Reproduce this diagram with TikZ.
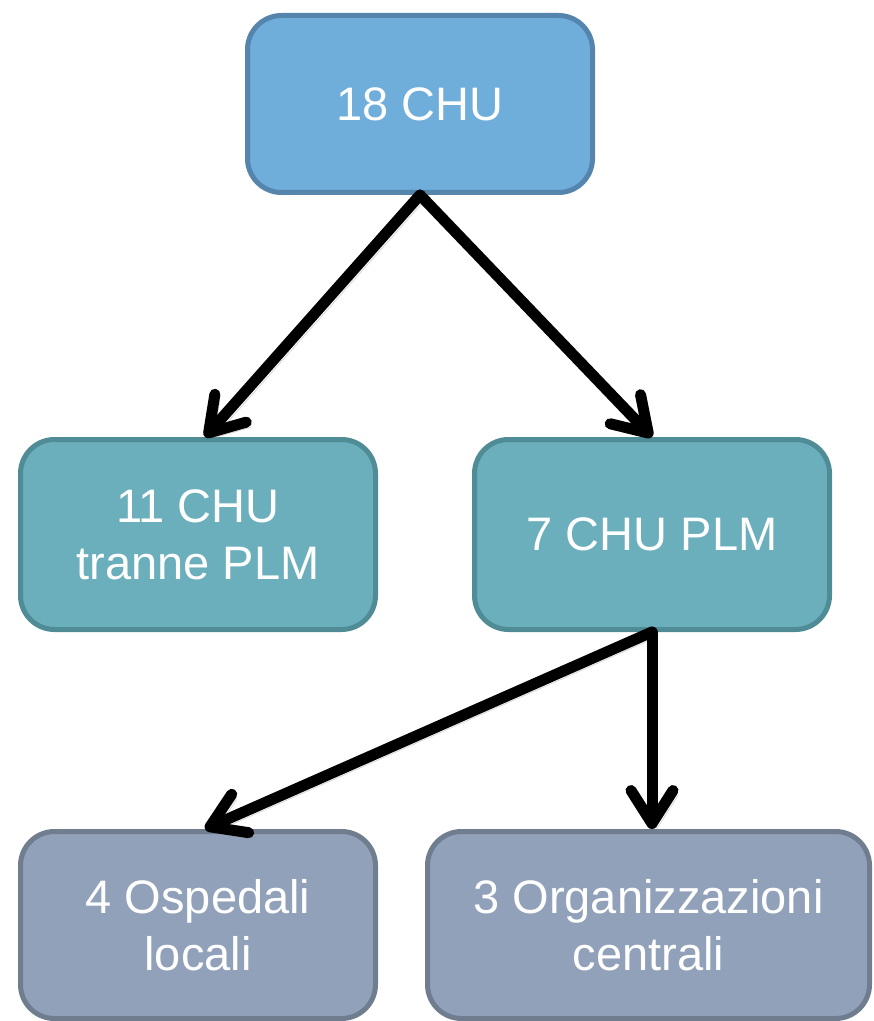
\documentclass[tikz,border=0pt]{standalone}
\usepackage{fontspec}
\setmainfont{Liberation Sans}
\usetikzlibrary{arrows.meta}
\definecolor{topfill}{HTML}{6FADDA}
\definecolor{topline}{HTML}{5585AD}
\definecolor{midfill}{HTML}{6BAFBC}
\definecolor{midline}{HTML}{4F8C95}
\definecolor{lowfill}{HTML}{91A1BA}
\definecolor{lowline}{HTML}{6F7D8F}
\tikzstyle{chu}=[rectangle, rounded corners=17pt, line width=2.5pt, text=white,
  align=center, font=\fontsize{23.5}{28.5}\selectfont]
\tikzstyle{level0}=[chu, fill=topfill, draw=topline, minimum width=172.5pt, minimum height=88.5pt]
\tikzstyle{level1}=[chu, fill=midfill, draw=midline, minimum width=177.5pt, minimum height=95pt]
\tikzstyle{level2}=[chu, fill=lowfill, draw=lowline, minimum height=93.5pt]
\newcommand{\chu}{\node}

\begin{document}
\begin{tikzpicture}[x=0.5pt, y=-0.5pt
  ,every edge/.style={draw, line width=5.5pt, line cap=round,
    -{Straight Barb[length=16.5pt, width=21pt, line cap=round, line join=round]},
    preaction={draw, black!40, opacity=0.4, transform canvas={shift={(2.5pt,-2.5pt)}}}}
]
\useasboundingbox (0,0) rectangle (873,1021);
\chu[level0] (all) at (420,104) {18 CHU};
\chu[level1] (rest) at (198,534.5) {11 CHU\\tranne PLM};
\chu[level1] (plm) at (652,534.5) {7 CHU PLM};
\chu[level2, minimum width=177.5pt] (osp) at (198,925) {4 Ospedali\\locali};
\chu[level2, minimum width=221pt] (org) at (648.5,925) {3 Organizzazioni\\centrali};
\path
(all.south) edge ([xshift=3.5pt]rest.north) edge (plm.north)
(plm.south) edge ([xshift=3.5pt]osp.north) edge (plm.south |- org.north)
;
\end{tikzpicture}
\end{document}
